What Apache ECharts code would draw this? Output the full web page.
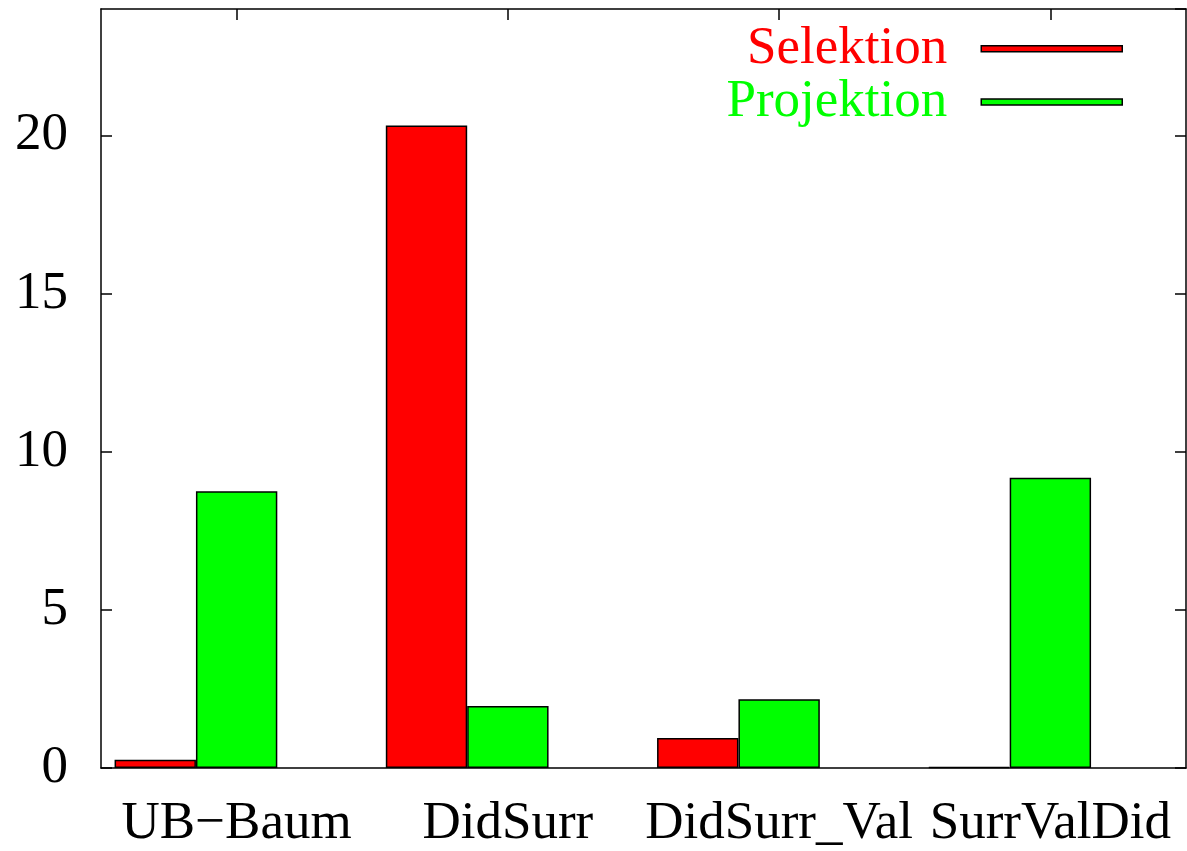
<!DOCTYPE html>
<html>
<head>
<meta charset="utf-8">
<script src="https://cdn.jsdelivr.net/npm/echarts@6/dist/echarts.min.js"></script>
<style>
html,body{margin:0;padding:0;background:#fff;}
#chart{width:1187px;height:851px;}
</style>
</head>
<body>
<div id="chart"></div>
<script>
const categories = ['UB\u2212Baum', 'DidSurr', 'DidSurr_Val', 'SurrValDid'];
const selektion = [0.26, 20.32, 0.95, 0.03];
const projektion = [8.75, 1.96, 2.17, 9.18];
const seriesNames = ['Selektion', 'Projektion'];
const seriesColors = ['#ff0000', '#00ff00'];
const yTicks = { min: 0, max: 24, interval: 5 };

const FONT = 'Liberation Serif';
const FS = 53;
const chart = echarts.init(document.getElementById('chart'), null, { renderer: 'canvas' });

const axisLine = { show: true, onZero: false, lineStyle: { color: '#000', width: 1.5 } };
const tick = { show: true, inside: true, length: 11, lineStyle: { color: '#000', width: 1.5 } };

const option = {
  backgroundColor: '#fff',
  animation: false,
  grid: { left: 101, right: 1, top: 9, bottom: 81, containLabel: false },
  legend: {
    orient: 'vertical',
    align: 'right',
    right: 64,
    top: 22,
    padding: 0,
    itemGap: 0,
    itemWidth: 141,
    itemHeight: 6,
    icon: 'rect',
    selectedMode: false,
    data: seriesNames.map((n, i) => ({
      name: n,
      itemStyle: { color: seriesColors[i], borderColor: '#000', borderWidth: 1.5 },
      textStyle: { color: seriesColors[i] }
    })),
    textStyle: { fontFamily: FONT, fontSize: FS, lineHeight: 51.4, padding: [2, 29, 0, 0] }
  },
  xAxis: [
    {
      type: 'category',
      data: categories,
      position: 'bottom',
      boundaryGap: true,
      axisLine: axisLine,
      axisTick: Object.assign({ alignWithLabel: true }, tick),
      axisLabel: { interval: 0, margin: 30, color: '#000', fontFamily: FONT, fontSize: FS },
      splitLine: { show: false }
    },
    {
      type: 'category',
      data: categories,
      position: 'top',
      boundaryGap: true,
      axisLine: axisLine,
      axisTick: Object.assign({ alignWithLabel: true }, tick),
      axisLabel: { show: false },
      splitLine: { show: false }
    }
  ],
  yAxis: [
    {
      type: 'value',
      position: 'left',
      min: yTicks.min, max: yTicks.max, interval: yTicks.interval,
      axisLine: axisLine,
      axisTick: tick,
      axisLabel: { margin: 33, color: '#000', fontFamily: FONT, fontSize: FS, showMaxLabel: false },
      splitLine: { show: false }
    },
    {
      type: 'value',
      position: 'right',
      min: yTicks.min, max: yTicks.max, interval: yTicks.interval,
      axisLine: axisLine,
      axisTick: tick,
      axisLabel: { show: false },
      splitLine: { show: false }
    }
  ],
  series: [
    {
      name: seriesNames[0], type: 'bar', xAxisIndex: 0, yAxisIndex: 0,
      data: selektion, barWidth: '30%', barGap: '0%',
      itemStyle: { color: seriesColors[0], borderColor: '#000', borderWidth: 1.5 },
      z: 3
    },
    {
      name: seriesNames[1], type: 'bar', xAxisIndex: 0, yAxisIndex: 0,
      data: projektion, barWidth: '30%', barGap: '0%',
      itemStyle: { color: seriesColors[1], borderColor: '#000', borderWidth: 1.5 },
      z: 3
    },
    {
      name: 'gap', type: 'bar', xAxisIndex: 0, yAxisIndex: 0,
      data: categories.map(() => '-'), barWidth: '30%', barGap: '0%',
      silent: true, itemStyle: { color: 'transparent' }
    }
  ]
};
chart.setOption(option);
</script>
</body>
</html>
